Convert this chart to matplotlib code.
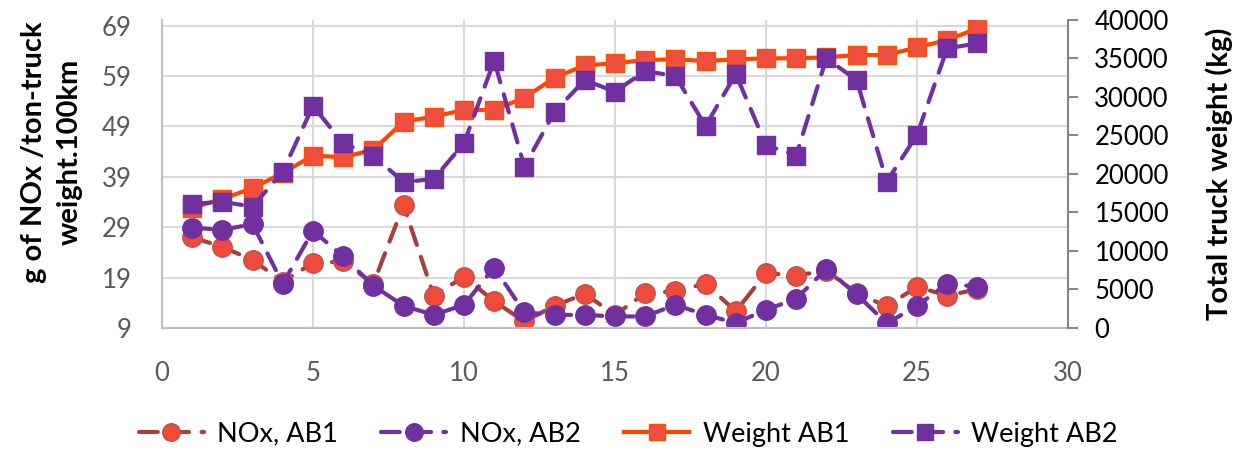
import matplotlib.pyplot as plt

plt.rcParams['font.family'] = ['Lato', 'DejaVu Sans']

trips = list(range(1, 28))

nox_ab1 = [27.0, 25.1, 22.5, 18.2, 21.9, 22.2, 17.8, 33.4, 15.4, 19.2,
           14.3, 10.3, 13.4, 15.8, 11.6, 15.9, 16.3, 17.8, 12.3, 19.9,
           19.4, 20.4, 15.9, 13.3, 17.2, 15.4, 16.7]
nox_ab2 = [28.9, 28.5, 29.6, 17.8, 28.3, 23.2, 17.4, 13.4, 11.6, 13.6,
           21.0, 12.1, 11.6, 11.6, 11.3, 11.3, 13.6, 11.6, 10.0, 12.6,
           14.8, 20.7, 15.7, 9.9, 13.4, 17.8, 17.2]
weight_ab1 = [15600, 16770, 18160, 20140, 22390, 22180, 23130, 26800, 27450, 28310,
              28310, 29910, 32500, 34110, 34370, 34800, 34890, 34670, 34890, 35020,
              35020, 35150, 35450, 35450, 36450, 37390, 38910]
weight_ab2 = [16120, 16380, 15770, 20310, 28830, 23990, 22390, 18940, 19360, 23990,
              34710, 20960, 28090, 32200, 30690, 33370, 32720, 26240, 32980, 23770,
              22390, 35020, 32200, 19020, 25070, 36310, 36960]

purple = '#7030A0'
grey = '#595959'

fig, ax = plt.subplots(figsize=(12.44, 4.49), dpi=100)
fig.subplots_adjust(left=0.1302, right=0.8585, bottom=0.2695, top=0.9555)
ax2 = ax.twinx()

l1, = ax.plot(trips, nox_ab1, color='#A5413D', lw=3, dashes=(4.5, 3),
              dash_capstyle='round',
              marker='o', ms=14, mfc='#EE4B3B', mec='#C0504D', mew=1,
              label='NOx, AB1')
l2, = ax.plot(trips, nox_ab2, color=purple, lw=3, dashes=(4.5, 3),
              dash_capstyle='round',
              marker='o', ms=14, mfc=purple, mec=purple,
              label='NOx, AB2')
l3, = ax2.plot(trips, weight_ab1, color='#FF4500', lw=3,
               marker='s', ms=13, mfc='#F04E3E', mec='#FF5000', mew=1,
               label='Weight AB1')
l4, = ax2.plot(trips, weight_ab2, color=purple, lw=3, dashes=(4.5, 3),
               dash_capstyle='round',
               marker='s', ms=13, mfc=purple, mec=purple,
               label='Weight AB2')

ax.set_xlim(0, 30)
ax.set_xticks(range(0, 31, 5))
ax.set_ylim(9, 70.13)
ax.set_yticks(range(9, 70, 10))
ax2.set_ylim(0, 40000)
ax2.set_yticks(range(0, 40001, 5000))

ax.grid(True, color='#D9D9D9', lw=1.5)
ax.set_axisbelow(True)
for s in ['top', 'right']:
    ax.spines[s].set_visible(False)
for s in ['top', 'left', 'bottom']:
    ax2.spines[s].set_visible(False)
ax.spines['left'].set_color('#BFBFBF')
ax.spines['bottom'].set_color('#BFBFBF')
ax.spines['left'].set_linewidth(1.5)
ax.spines['bottom'].set_linewidth(1.5)
ax2.spines['right'].set_color('#868686')
ax2.spines['right'].set_linewidth(1.5)

ax.tick_params(axis='x', length=0, labelsize=18.5, labelcolor=grey, pad=24)
ax.tick_params(axis='y', length=0, labelsize=18.5, labelcolor=grey, pad=22)
ax2.tick_params(axis='y', length=7, width=1.5, color='#868686', labelsize=18.5,
                labelcolor='black', pad=12)

ax.set_ylabel('g of NOx /ton-truck\nweight.100km', fontsize=21,
              fontweight='bold', linespacing=1.45)
ax.yaxis.set_label_coords(-0.088, 0.571)
ax2.set_ylabel('Total truck weight (kg)', fontsize=21, fontweight='bold')
ax2.yaxis.set_label_coords(1.152, 0.5)

fig.legend(handles=[l1, l2, l3, l4], loc='center', bbox_to_anchor=(0.505, 0.033),
           ncol=4, frameon=False, fontsize=19.5, handlelength=2.4,
           columnspacing=1.6, handletextpad=0.5, markerscale=0.9)

fig.savefig('out.png', dpi=100)
